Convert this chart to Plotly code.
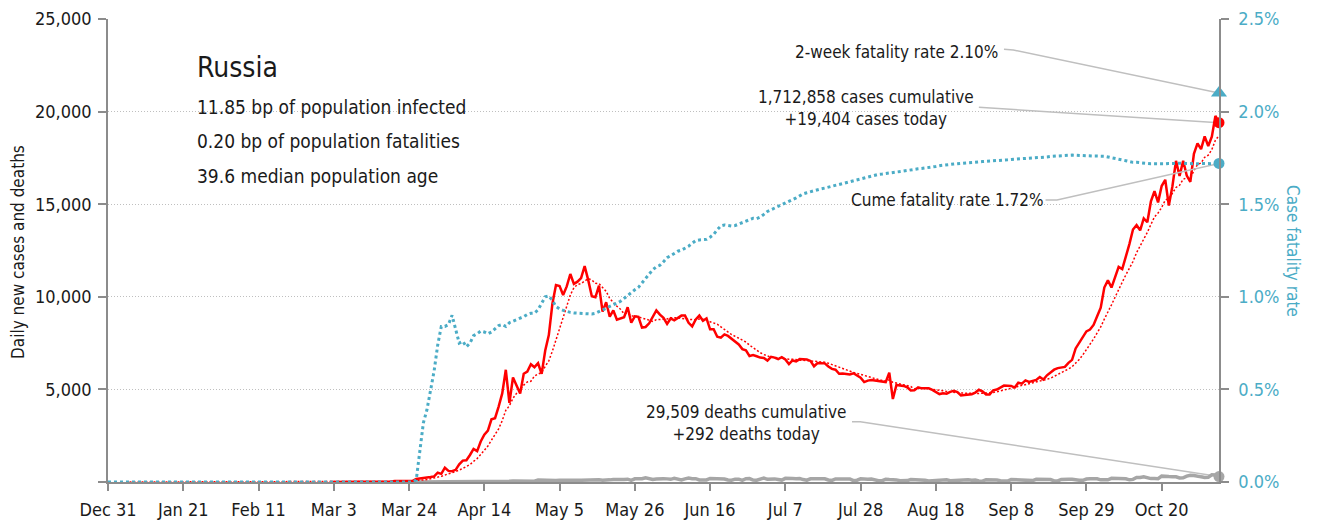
import pandas as pd
import plotly.graph_objects as go

START = "2019-12-31"
END = "2020-11-05"

# Daily new cases, from 2020-03-02 to 2020-11-05
cases = [
    0, 1, 0, 0, 0, 1, 6, 0, 0, 3,
    7, 8, 17, 14, 4, 27, 24, 33, 52, 54,
    53, 61, 71, 57, 163, 182, 196, 228, 270, 302,
    501, 440, 771, 601, 582, 658, 954, 1154, 1175, 1459,
    1786, 1667, 2186, 2558, 2774, 3388, 3448, 4070, 4785, 6060,
    4268, 5642, 5236, 4774, 5849, 5966, 6361, 6198, 6411, 5841,
    7099, 7933, 9623, 10633, 10581, 10102, 10559, 11231, 10699, 10817,
    11012, 11656, 10899, 10028, 9974, 10598, 9200, 9709, 8926, 9263,
    8764, 8849, 8894, 9434, 8599, 8946, 8915, 8338, 8371, 8572,
    8952, 9268, 9035, 8863, 8536, 8831, 8726, 8855, 8984, 8985,
    8595, 8404, 8779, 8987, 8706, 8835, 8246, 8248, 7843, 7790,
    7972, 7889, 7728, 7600, 7425, 7176, 7113, 6800, 6852, 6791,
    6719, 6693, 6556, 6760, 6718, 6632, 6736, 6611, 6368, 6562,
    6509, 6635, 6611, 6615, 6537, 6248, 6422, 6428, 6406, 6234,
    6109, 6065, 5842, 5862, 5848, 5811, 5871, 5765, 5635, 5395,
    5475, 5509, 5482, 5462, 5427, 5394, 5900, 4480, 5241, 5212,
    5189, 5118, 4945, 4952, 5102, 5065, 5061, 5057, 4969, 4839,
    4748, 4790, 4767, 4870, 4921, 4852, 4676, 4696, 4711, 4741,
    4829, 4980, 4897, 4729, 4729, 4952, 4995, 5110, 5205, 5195,
    5185, 5099, 5363, 5310, 5488, 5406, 5449, 5509, 5670, 5529,
    5762, 5905, 6065, 6148, 6196, 6215, 6431, 6595, 7212, 7523,
    7867, 8135, 8232, 8481, 8945, 9412, 10499, 10888, 10499, 11115,
    11615, 11493, 12126, 12846, 13634, 13868, 13592, 14231, 14026, 15150,
    15700, 15099, 15982, 16319, 14922, 15971, 17340, 16521, 17347, 16550,
    16202, 17717, 18283, 17975, 18665, 18140, 18648, 19768, 19404,
]

# Daily deaths, from 2020-03-26 to 2020-11-05
deaths = [
    1, 1, 1, 1, 4, 1, 8, 7, 6, 4,
    9, 2, 2, 11, 5, 13, 18, 12, 24, 18,
    22, 28, 34, 41, 40, 48, 44, 51, 57, 42,
    60, 66, 66, 47, 108, 101, 96, 57, 58, 76,
    95, 86, 76, 98, 88, 88, 94, 107, 107, 96,
    113, 119, 94, 91, 115, 135, 127, 150, 139, 153,
    92, 174, 161, 174, 232, 181, 138, 162, 182, 178,
    169, 144, 197, 134, 112, 171, 216, 174, 181, 113,
    119, 109, 193, 194, 182, 181, 161, 109, 95, 153,
    154, 92, 176, 188, 104, 93, 154, 216, 147, 168,
    168, 135, 104, 198, 173, 186, 174, 188, 130, 95,
    175, 175, 161, 183, 171, 108, 85, 165, 167, 169,
    164, 161, 70, 95, 169, 147, 150, 161, 95, 70,
    70, 144, 129, 129, 114, 70, 70, 77, 130, 129,
    114, 113, 94, 60, 70, 123, 117, 116, 121, 68,
    76, 95, 122, 134, 121, 100, 110, 59, 47, 123,
    122, 117, 111, 69, 57, 51, 134, 125, 129, 119,
    112, 66, 75, 144, 150, 122, 150, 132, 60, 60,
    140, 160, 155, 145, 109, 99, 88, 160, 169, 186,
    169, 117, 117, 115, 197, 201, 202, 201, 174, 117,
    141, 244, 239, 286, 232, 184, 184, 179, 317, 286,
    291, 283, 279, 219, 229, 320, 366, 355, 334, 278,
    245, 252, 389, 385, 292,
]

# Cumulative case fatality rate (%), from 2020-03-26 to 2020-11-05 (0 before)
cfr_pct = [
    0.01, 0.18, 0.32, 0.39, 0.49, 0.60, 0.74, 0.84, 0.84, 0.85,
    0.90, 0.83, 0.75, 0.76, 0.73, 0.75, 0.79, 0.80, 0.815, 0.81,
    0.80, 0.81, 0.83, 0.845, 0.85, 0.84, 0.86, 0.867, 0.875, 0.885,
    0.893, 0.905, 0.911, 0.912, 0.93, 0.965, 1.0, 1.005, 0.98, 0.948,
    0.935, 0.927, 0.92, 0.916, 0.913, 0.911, 0.909, 0.907, 0.905, 0.907,
    0.911, 0.92, 0.928, 0.935, 0.946, 0.956, 0.966, 0.976, 0.992, 1.011,
    1.026, 1.038, 1.051, 1.076, 1.1, 1.124, 1.146, 1.162, 1.17, 1.189,
    1.211, 1.222, 1.234, 1.246, 1.252, 1.261, 1.273, 1.289, 1.303, 1.307,
    1.307, 1.31, 1.322, 1.337, 1.362, 1.383, 1.388, 1.385, 1.382, 1.385,
    1.393, 1.401, 1.408, 1.418, 1.424, 1.422, 1.43, 1.445, 1.461, 1.47,
    1.479, 1.488, 1.496, 1.505, 1.513, 1.523, 1.534, 1.545, 1.556, 1.562,
    1.568, 1.573, 1.578, 1.583, 1.587, 1.592, 1.596, 1.601, 1.607, 1.612,
    1.616, 1.62, 1.625, 1.63, 1.635, 1.641, 1.647, 1.653, 1.658, 1.661,
    1.663, 1.665, 1.668, 1.67, 1.673, 1.676, 1.679, 1.682, 1.686, 1.689,
    1.691, 1.693, 1.695, 1.698, 1.701, 1.704, 1.708, 1.711, 1.714, 1.716,
    1.717, 1.719, 1.72, 1.722, 1.723, 1.725, 1.726, 1.728, 1.73, 1.731,
    1.733, 1.735, 1.736, 1.738, 1.739, 1.74, 1.742, 1.743, 1.744, 1.746,
    1.747, 1.748, 1.75, 1.751, 1.752, 1.753, 1.755, 1.758, 1.76, 1.761,
    1.762, 1.763, 1.764, 1.765, 1.764, 1.762, 1.76, 1.76, 1.76, 1.76,
    1.76, 1.76, 1.759, 1.755, 1.75, 1.746, 1.742, 1.739, 1.735, 1.73,
    1.726, 1.726, 1.725, 1.725, 1.72, 1.718, 1.717, 1.717, 1.717, 1.718,
    1.72, 1.721, 1.721, 1.721, 1.721, 1.72, 1.718, 1.717, 1.718, 1.72,
    1.721, 1.72, 1.719, 1.719, 1.72,
]

TWO_WEEK_CFR = 2.10
TOTAL_CASES = 1712858
TOTAL_DEATHS = 29509
COUNTRY = "Russia"
STATS = [
    "11.85 bp of population infected",
    "0.20 bp of population fatalities",
    "39.6 median population age",
]

left_ticks = [0, 5000, 10000, 15000, 20000, 25000]
right_ticks = [0, 0.5, 1.0, 1.5, 2.0, 2.5]

# leader-line elbows for the call-outs: (days after START, value)
lead_2wk = [(250.0, 2.336), (252.6, 2.333)]
lead_cases = [(243.0, 20230), (247.0, 20180)]
lead_cfr = [(261.6, 1.523), (264.8, 1.523)]
lead_deaths = [(207.6, 3256), (209.9, 3256)]

FONT = "DejaVu Sans Condensed, Liberation Sans Narrow, sans-serif"
RED = "#FF0000"
TEAL = "#4BACC6"
GRAY = "#A6A6A6"
AXIS = "#8C8C8C"
LEAD = "#BFBFBF"
TXT = "#1A1A1A"

dates_all = pd.date_range(START, END, freq="D")
cases_s = pd.Series(cases, index=pd.date_range(end=END, periods=len(cases)), dtype=float)
deaths_s = pd.Series(deaths, index=pd.date_range(end=END, periods=len(deaths)), dtype=float)
cfr_s = pd.Series(cfr_pct, index=pd.date_range(end=END, periods=len(cfr_pct))).reindex(dates_all, fill_value=0.0)
avg7 = cases_s.reindex(dates_all, fill_value=0.0).rolling(7).mean()

start_ts = pd.Timestamp(START)
end_ts = pd.Timestamp(END)


def leader(points, last_value):
    xs = [start_ts + pd.Timedelta(days=d) for d, _ in points] + [end_ts]
    ys = [v for _, v in points] + [last_value]
    return xs, ys


fig = go.Figure()

# leader lines
for pts, last, ax in [
    (lead_2wk, TWO_WEEK_CFR, "y2"),
    (lead_cases, cases[-1], "y"),
    (lead_cfr, cfr_pct[-1], "y2"),
    (lead_deaths, deaths[-1], "y"),
]:
    xs, ys = leader(pts, last)
    fig.add_trace(go.Scatter(x=xs, y=ys, mode="lines", yaxis=ax,
                             line=dict(color=LEAD, width=1.5),
                             hoverinfo="skip", cliponaxis=False))

fig.add_trace(go.Scatter(x=deaths_s.index, y=deaths_s.values, mode="lines",
                         line=dict(color=GRAY, width=3.5), name="Deaths"))
fig.add_trace(go.Scatter(x=cases_s.index, y=cases_s.values, mode="lines",
                         line=dict(color=RED, width=2.5), name="Cases"))
fig.add_trace(go.Scatter(x=cfr_s.index, y=cfr_s.values, mode="lines", yaxis="y2",
                         line=dict(color=TEAL, width=3, dash="3px,3px"),
                         name="Case fatality rate"))
fig.add_trace(go.Scatter(x=avg7.index, y=avg7.values, mode="lines",
                         line=dict(color=RED, width=1.5, dash="2px,2px"),
                         name="7-day average"))

# end markers
fig.add_trace(go.Scatter(x=[end_ts], y=[deaths[-1]], mode="markers",
                         marker=dict(color=GRAY, size=11), cliponaxis=False))
fig.add_trace(go.Scatter(x=[end_ts], y=[cases[-1]], mode="markers",
                         marker=dict(color=RED, size=11), cliponaxis=False))
fig.add_trace(go.Scatter(x=[end_ts], y=[cfr_pct[-1]], mode="markers", yaxis="y2",
                         marker=dict(color=TEAL, size=11), cliponaxis=False))
fig.add_trace(go.Scatter(x=[end_ts], y=[TWO_WEEK_CFR], mode="markers", yaxis="y2",
                         marker=dict(color=TEAL, size=14, symbol="triangle-up"),
                         cliponaxis=False))

# page body adds an 8px offset; figure sized to fit the 1320x525 window
fig.update_layout(
    width=1312, height=517,
    margin=dict(l=100, r=101, t=11, b=43, autoexpand=False),
    paper_bgcolor="white", plot_bgcolor="white",
    showlegend=False,
    font=dict(family=FONT, color=TXT, size=18),
    xaxis=dict(
        type="date", range=[START, END], automargin=False,
        tick0=START, dtick=21 * 86400000, tickformat="%b %-d",
        ticks="outside", ticklen=7, tickwidth=1.5, tickcolor=AXIS,
        ticklabelstandoff=4,
        showline=True, linecolor=AXIS, linewidth=1.5,
        showgrid=False, zeroline=False,
        tickfont=dict(family=FONT, size=18, color=TXT),
    ),
    yaxis=dict(
        range=[0, 25000], tickvals=left_ticks, automargin=False,
        ticktext=["" if v == 0 else f"{v:,}" for v in left_ticks],
        ticks="outside", ticklen=8, tickwidth=1.5, tickcolor=AXIS,
        ticklabelstandoff=3,
        showline=True, linecolor=AXIS, linewidth=1.5,
        showgrid=True, gridcolor="#BFBFBF", griddash="1px,2px", gridwidth=1,
        zeroline=False,
        tickfont=dict(family=FONT, size=18, color=TXT),
    ),
    yaxis2=dict(
        overlaying="y", side="right", range=[0, 2.5], automargin=False,
        tickvals=right_ticks, ticktext=[f"{v:.1f}%" for v in right_ticks],
        ticks="outside", ticklen=8, tickwidth=1.5, tickcolor=AXIS,
        ticklabelstandoff=6,
        showline=True, linecolor=AXIS, linewidth=1.5,
        showgrid=False, zeroline=False,
        tickfont=dict(family=FONT, size=18, color=TEAL),
    ),
)

ann = []
ann.append(dict(text=COUNTRY, x=0.0783, y=0.8963, xref="paper", yref="paper",
                xanchor="left", yanchor="middle", showarrow=False,
                font=dict(family=FONT, size=28, color=TXT)))
for s, yp in zip(STATS, [0.810, 0.7365, 0.661]):
    ann.append(dict(text=s, x=0.0783, y=yp, xref="paper", yref="paper",
                    xanchor="left", yanchor="middle", showarrow=False,
                    font=dict(family=FONT, size=19, color=TXT)))

ann.append(dict(text=f"2-week fatality rate {TWO_WEEK_CFR:.2f}%", x=0.8029, y=0.9287,
                xref="paper", yref="paper", xanchor="right", yanchor="middle",
                showarrow=False, font=dict(family=FONT, size=17, color=TXT)))
ann.append(dict(text=f"{TOTAL_CASES:,} cases cumulative<br>+{cases[-1]:,} cases today",
                x=0.6823, y=0.8078, xref="paper", yref="paper", xanchor="center",
                yanchor="middle", align="center", showarrow=False,
                font=dict(family=FONT, size=17, color=TXT)))
ann.append(dict(text=f"Cume fatality rate {cfr_pct[-1]:.2f}%", x=0.7556, y=0.609,
                xref="paper", yref="paper", xanchor="center", yanchor="middle",
                showarrow=False, font=dict(family=FONT, size=17, color=TXT)))
ann.append(dict(text=f"{TOTAL_DEATHS:,} deaths cumulative<br>+{deaths[-1]:,} deaths today",
                x=0.5747, y=0.1285, xref="paper", yref="paper", xanchor="center",
                yanchor="middle", align="center", showarrow=False,
                font=dict(family=FONT, size=17, color=TXT)))

ann.append(dict(text="Daily new cases and deaths", x=-0.081, y=0.4968,
                xref="paper", yref="paper", xanchor="center", yanchor="middle",
                textangle=-90, showarrow=False,
                font=dict(family=FONT, size=17, color=TXT)))
ann.append(dict(text="Case fatality rate", x=1.0666, y=0.499,
                xref="paper", yref="paper", xanchor="center", yanchor="middle",
                textangle=90, showarrow=False,
                font=dict(family=FONT, size=17, color=TEAL)))

fig.update_layout(annotations=ann)

fig.write_html("out.html")
